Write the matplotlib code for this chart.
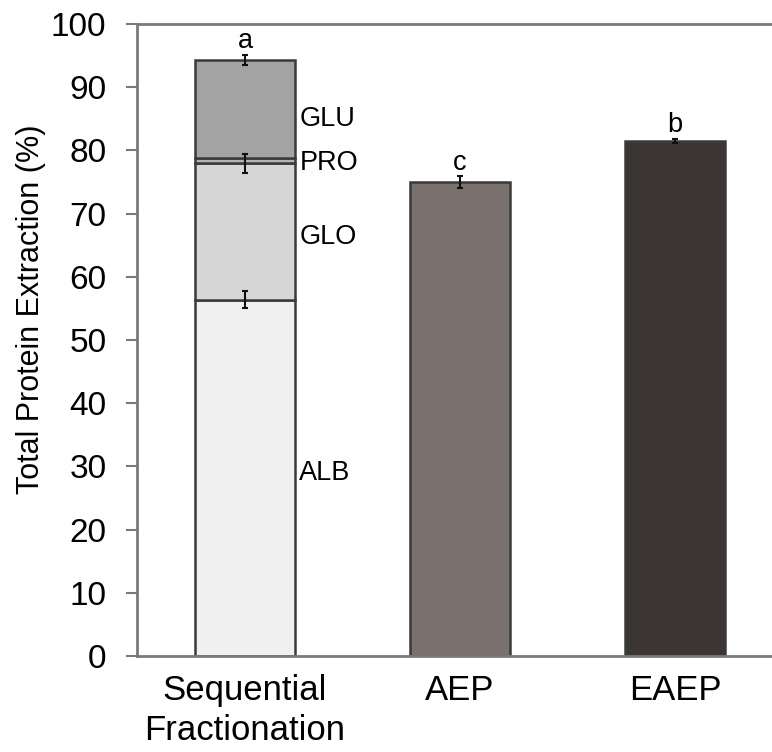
import matplotlib.pyplot as plt
import numpy as np

plt.rcParams['font.family'] = ['Liberation Sans', 'DejaVu Sans']

categories = ['Sequential\nFractionation', 'AEP', 'EAEP']

# protein fractions stacked in the first bar (% of total protein)
fractions = ['ALB', 'GLO', 'PRO', 'GLU']
fraction_values = [56.4, 21.6, 0.8, 15.5]
fraction_errors = [1.4, 1.5, 0.0, 0.8]
fraction_colors = ['#f0f0f0', '#d6d6d6', '#b4b4b4', '#a3a3a3']

# single-step extractions
method_values = [75.0, 81.5]
method_errors = [0.9, 0.3]
method_colors = ['#7a716e', '#3b3634']

letters = ['a', 'c', 'b']

edge = '#3a3a3a'
width = 0.465

fig = plt.figure(figsize=(7.72, 7.52), dpi=100)
ax = fig.add_axes([0.1775, 0.1277, 0.8225, 0.8403])

x = np.arange(len(categories))

bottom = 0.0
for name, val, err, col in zip(fractions, fraction_values, fraction_errors, fraction_colors):
    ax.bar(x[0], val, width, bottom=bottom, color=col, edgecolor=edge, linewidth=1.8, zorder=2)
    if err > 0:
        ax.errorbar(x[0], bottom + val, yerr=err, fmt='none', ecolor='#111111',
                    elinewidth=1.5, capsize=2, capthick=1.5, zorder=3)
    bottom += val

label_y = [29.0, 66.3, 78.0, 85.0]
for name, ly in zip(fractions, label_y):
    ax.text(x[0] + width / 2 + 0.02, ly, name, fontsize=19.5, va='center', ha='left')

ax.bar(x[1:], method_values, width, color=method_colors, edgecolor=edge, linewidth=1.8, zorder=2)
ax.errorbar(x[1:], method_values, yerr=method_errors, fmt='none', ecolor='#111111',
            elinewidth=1.5, capsize=2, capthick=1.5, zorder=3)

tops = [bottom + fraction_errors[-1]] + [v + e for v, e in zip(method_values, method_errors)]
for xi, t, lt in zip(x, tops, letters):
    ax.text(xi, t + 0.1, lt, fontsize=19.5, ha='center', va='bottom')

ax.set_xlim(-0.502, 2.45)
ax.set_ylim(0, 100)
ax.set_yticks(np.arange(0, 101, 10))
ax.set_xticks(x)
ax.set_xticklabels(categories, fontsize=25, linespacing=1.25)
ax.tick_params(axis='x', length=0, pad=13)
ax.tick_params(axis='y', labelsize=24, length=8, width=1.5, color='#7a7a7a', pad=14)
ax.set_ylabel('Total Protein Extraction (%)', fontsize=22)
ax.yaxis.set_label_coords(-0.143, 0.548)

for side in ['left', 'bottom', 'top']:
    ax.spines[side].set_color('#7a7a7a')
    ax.spines[side].set_linewidth(2)
ax.spines['right'].set_visible(False)

fig.savefig('out.png', dpi=100)
